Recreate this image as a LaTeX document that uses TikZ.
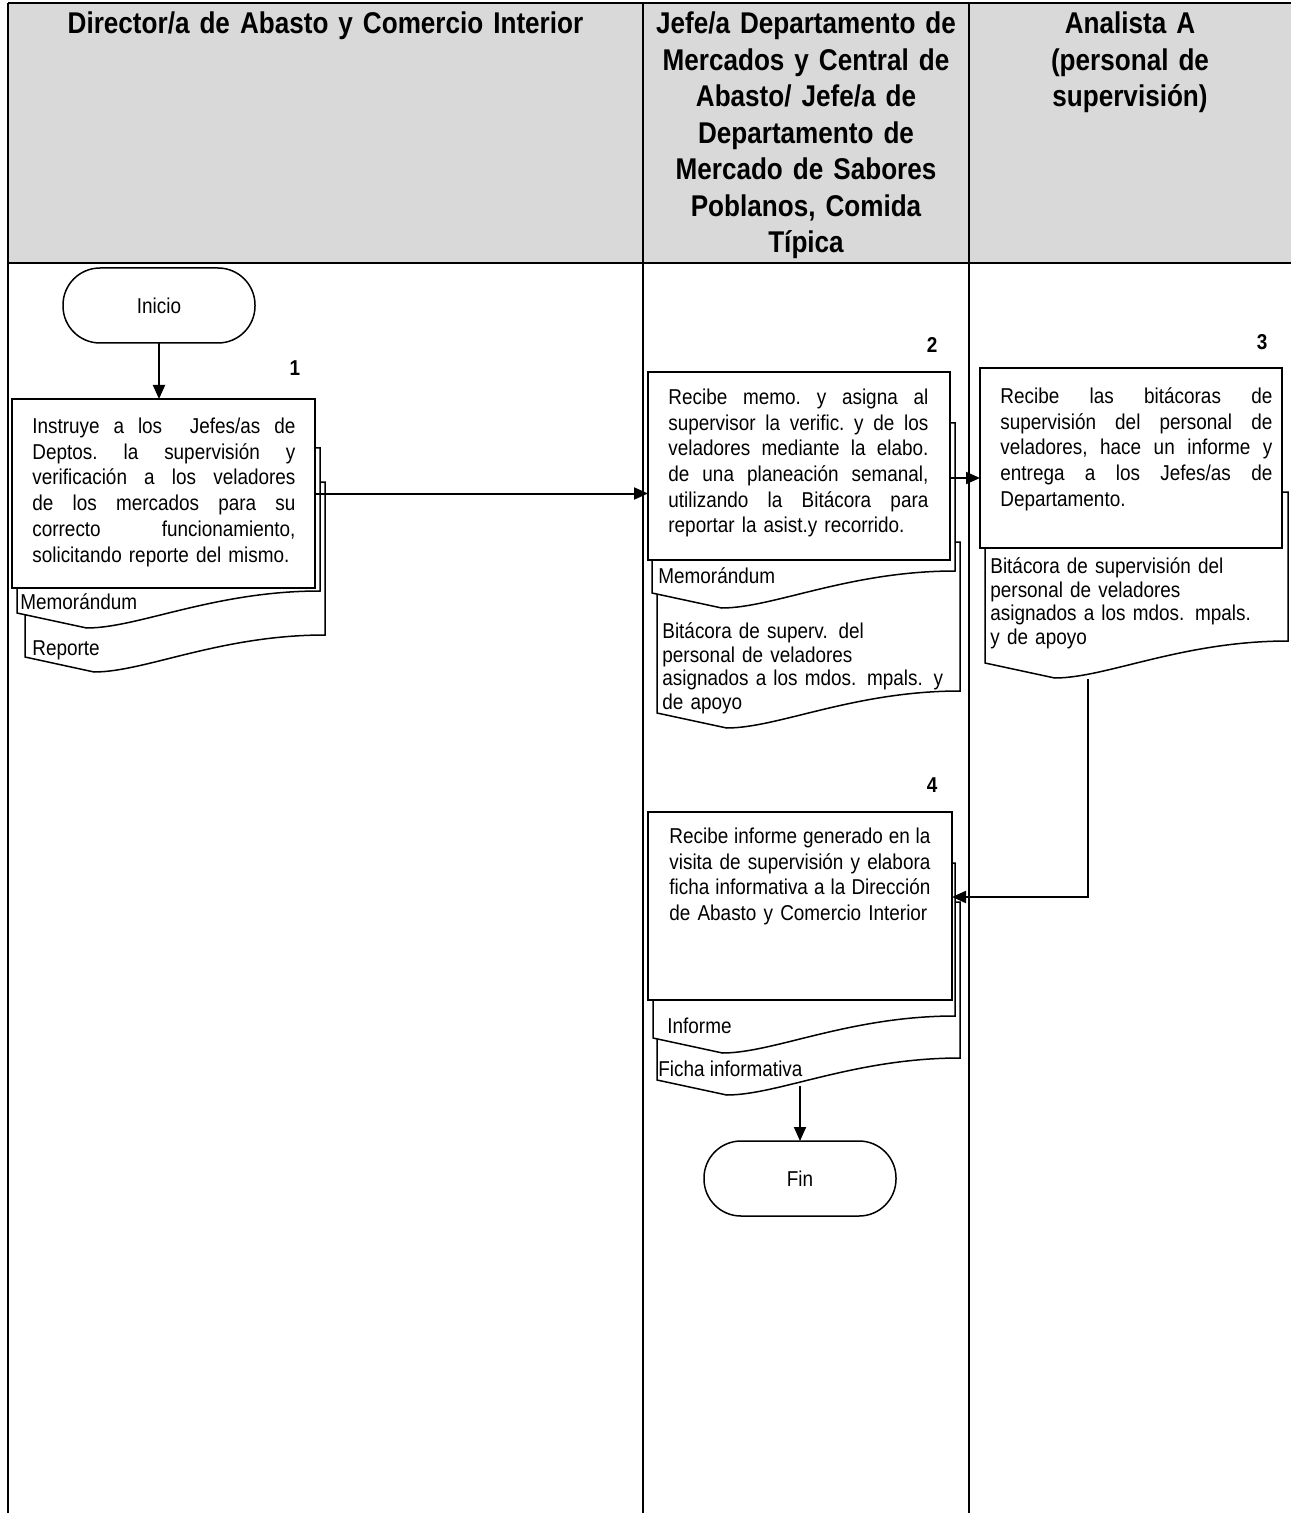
\documentclass[tikz,border=0pt]{standalone}
\usepackage{fontspec}
\usetikzlibrary{arrows.meta,calc}
\newfontfamily\bodyf{Liberation Sans}[FakeStretch=0.88]
\newfontfamily\hdrf{Liberation Sans}[FakeStretch=0.87]
\definecolor{hdrgray}{HTML}{D9D9D9}
\newcommand{\jl}[2]{\makebox[#1][s]{\frenchspacing\spaceskip=0.25em plus 1fil\relax #2}}
\newcommand{\docshp}[4]{%
  \pgfmathsetmacro\dw{#2-#1}%
  \filldraw[docsty] (#1,#3) -- (#2,#3) -- (#2,#4-22)
    .. controls (#1+0.65*\dw,#4-22) and (#1+0.4*\dw,#4+15) .. (#1+0.23*\dw,#4+15)
    -- (#1,#4) -- cycle;}
\begin{document}
\begin{tikzpicture}[x=0.5pt,y=-0.5pt,
  lane/.style={line width=1pt},
  docsty/.style={draw=black,fill=white,line width=0.75pt},
  procbox/.style={draw=black,fill=white,line width=0.75pt,rectangle,inner sep=0pt,outer sep=0pt},
  term/.style={draw=black,fill=white,line width=0.75pt,rectangle,rounded corners=18.5pt,
    minimum width=96pt,minimum height=37.5pt,inner sep=0pt,outer sep=0pt,
    font=\bodyf\fontsize{10.75pt}{12.85pt}\selectfont},
  hdr/.style={font=\hdrf\bfseries\fontsize{15pt}{18.25pt}\selectfont,align=center,inner sep=0pt,anchor=base},
  txt/.style={font=\bodyf\fontsize{10.75pt}{12.85pt}\selectfont,align=left,inner sep=0pt,anchor=base west},
  dtxt/.style={font=\bodyf\fontsize{10.75pt}{11.75pt}\selectfont,align=left,inner sep=0pt,anchor=base west},
  num/.style={font=\bodyf\bfseries\fontsize{10.75pt}{12.85pt}\selectfont,inner sep=0pt},
  arr/.style={line width=1pt,-{Triangle[length=7pt,width=6pt]}}]
\useasboundingbox (0,0) rectangle (1291,1513);
% header
\fill[hdrgray] (8,3) rectangle (1291,263);
\draw[lane] (8,3) -- (1291,3);
\draw[lane] (8,263) -- (1291,263);
\draw[lane] (8,3) -- (8,1513);
\draw[lane] (643,3) -- (643,1513);
\draw[lane] (969,3) -- (969,1513);
\node[hdr,text width=310pt] (h1) at (325.5,34) {Director/a de Abasto y Comercio Interior};
\node[hdr,text width=160pt] (h2) at (806,34) {Jefe/a Departamento de\\Mercados y Central de\\Abasto/ Jefe/a de\\Departamento de\\Mercado de Sabores\\Poblanos, Comida\\Típica};
\node[hdr,text width=155pt] (h3) at (1130,34) {Analista A\\(personal de\\supervisión)};
% documents (back to front)
\docshp{25}{325}{482}{657}
\docshp{17}{320}{448}{613}
\docshp{657}{960}{542}{713}
\docshp{652}{955}{423}{593}
\docshp{985}{1288}{492}{663}
\docshp{657}{960}{902}{1080}
\docshp{653}{955}{863}{1038}
\node[dtxt] (m1) at (20,609.5) {Memorándum};
\node[dtxt] (r1) at (32,655) {Reporte};
\node[dtxt] (m2) at (658,583.5) {Memorándum};
\node[dtxt,text width=150pt] (b2) at (662,638.5) {Bitácora de superv. del\\personal de veladores\\asignados a los mdos. mpals. y\\de apoyo};
\node[dtxt,text width=150pt] (b3) at (990,573.5) {Bitácora de supervisión del\\personal de veladores\\asignados a los mdos. mpals.\\y de apoyo};
\node[dtxt] (i4) at (667,1033.5) {Informe};
\node[dtxt] (f4) at (658,1076.5) {Ficha informativa};
% terminators
\node[term] (ini) at (159,305.5) {Inicio};
\node[term] (fin) at (800,1178.5) {Fin};
% process boxes
\node[procbox,minimum width=151.5pt,minimum height=94.5pt] (box1) at (163.5,493.5) {};
\node[procbox,minimum width=151pt,minimum height=94pt] (box2) at (799,466) {};
\node[procbox,minimum width=151pt,minimum height=90pt] (box3) at (1131,458) {};
\node[procbox,minimum width=152pt,minimum height=94pt] (box4) at (800,906) {};
\node[txt,text width=131.5pt] (t1) at (32,433.5) {\jl{131.5pt}{Instruye a los\ \ Jefes/as de}\\\jl{131.5pt}{Deptos. la supervisión y}\\\jl{131.5pt}{verificación a los veladores}\\\jl{131.5pt}{de los mercados para su}\\\jl{131.5pt}{correcto funcionamiento,}\\solicitando reporte del mismo.};
\node[txt,text width=130pt] (t2) at (668,404.5) {\jl{130pt}{Recibe memo. y asigna al}\\\jl{130pt}{supervisor la verific. y de los}\\\jl{130pt}{veladores mediante la elabo.}\\\jl{130pt}{de una planeación semanal,}\\\jl{130pt}{utilizando la Bitácora para}\\reportar la asist.y recorrido.};
\node[txt,text width=136pt] (t3) at (1000,403.5) {\jl{136pt}{Recibe las bitácoras de}\\\jl{136pt}{supervisión del personal de}\\\jl{136pt}{veladores, hace un informe y}\\\jl{136pt}{entrega a los Jefes/as de}\\Departamento.};
\node[txt,text width=130.5pt] (t4) at (669,843.5) {\jl{130.5pt}{Recibe informe generado en la}\\\jl{130.5pt}{visita de supervisión y elabora}\\\jl{130.5pt}{ficha informativa a la Dirección}\\de Abasto y Comercio Interior};
% step numbers
\node[num] (n1) at (295,368) {1};
\node[num] (n2) at (932,345) {2};
\node[num] (n3) at (1262,342) {3};
\node[num] (n4) at (932,785) {4};
% connectors
\coordinate (a23) at ([yshift=-6pt]box2.east);
\coordinate (a4) at ([yshift=4.5pt]box4.east);
\coordinate (d3b) at (1088,679);
\coordinate (d4b) at (800,1086);
\draw[arr] (ini.south) -- (ini.south |- box1.north);
\draw[arr] (box1.east) -- (box1.east -| box2.west);
\draw[arr] (a23) -- (a23 -| box3.west);
\draw[arr] (d3b) |- (a4);
\draw[arr] (d4b) -- (fin.north);
\end{tikzpicture}
\end{document}
